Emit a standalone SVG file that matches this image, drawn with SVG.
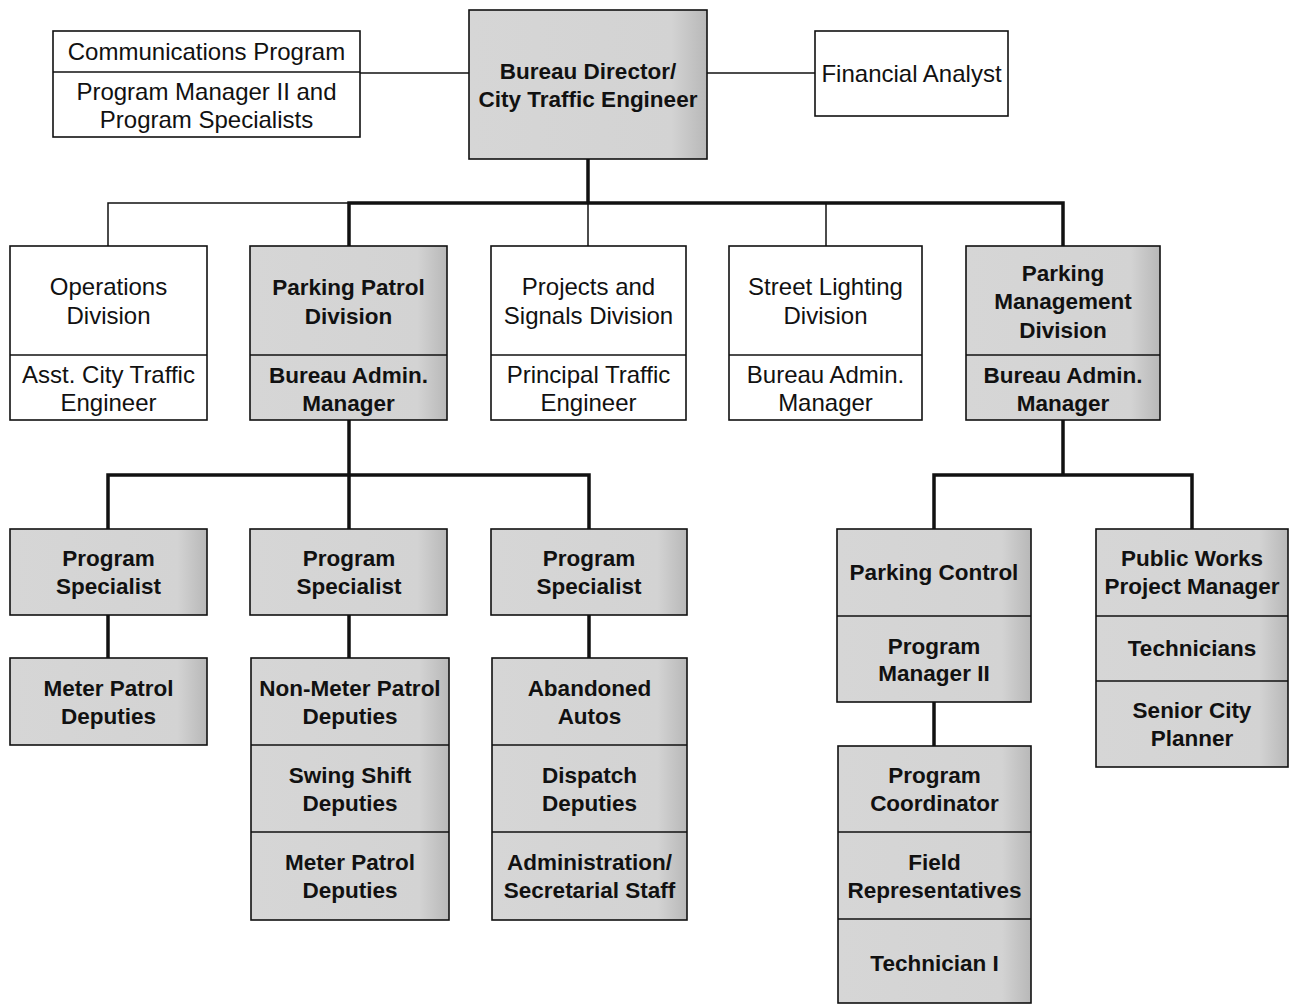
<svg xmlns="http://www.w3.org/2000/svg" width="1289" height="1005" viewBox="0 0 1289 1005">
<defs>
<linearGradient id="g" x1="0" y1="0" x2="1" y2="0">
<stop offset="0" stop-color="#d6d6d6"/>
<stop offset="0.85" stop-color="#d3d3d3"/>
<stop offset="1" stop-color="#b8b8b8"/>
</linearGradient>
<style>
.w{fill:#fff;stroke:#111;stroke-width:1.6}
.s{fill:url(#g);stroke:#111;stroke-width:1.6}
.d{stroke:#111;stroke-width:1.4;fill:none}
.t{font-family:"Liberation Sans",Arial,Helvetica,sans-serif;font-size:24px;fill:#111;text-anchor:middle}
.b{font-family:"Liberation Sans",Arial,Helvetica,sans-serif;font-size:22.5px;font-weight:bold;fill:#111;text-anchor:middle}
.thin{stroke:#111;stroke-width:1.5;fill:none}
.thick{stroke:#111;stroke-width:3.5;fill:none}
</style>
</defs>
<rect width="1289" height="1005" fill="#fff"/>

<g id="connectors">
<line class="thin" x1="360" y1="73" x2="469" y2="73"/>
<line class="thin" x1="707" y1="73" x2="815" y2="73"/>
<line class="thick" x1="588" y1="159" x2="588" y2="203"/>
<polyline class="thin" points="108,246 108,203 349,203"/>
<polyline class="thick" points="349,246 349,203 1063,203 1063,246"/>
<line class="thin" x1="588" y1="203" x2="588" y2="246"/>
<line class="thin" x1="826" y1="203" x2="826" y2="246"/>
<line class="thick" x1="349" y1="420" x2="349" y2="529"/>
<polyline class="thick" points="108,529 108,475 589,475 589,529"/>
<line class="thick" x1="108" y1="615" x2="108" y2="658"/>
<line class="thick" x1="349" y1="615" x2="349" y2="658"/>
<line class="thick" x1="589" y1="615" x2="589" y2="658"/>
<line class="thick" x1="1063" y1="420" x2="1063" y2="475"/>
<polyline class="thick" points="934,529 934,475 1192,475 1192,529"/>
<line class="thick" x1="934" y1="702" x2="934" y2="746"/>
</g>

<g id="communications">
<rect class="w" x="53" y="31" width="307" height="106"/>
<line class="d" x1="53" y1="72" x2="360" y2="72"/>
<text class="t" x="206.5" y="60">Communications Program</text>
<text class="t" x="206.5" y="100">Program Manager II and</text>
<text class="t" x="206.5" y="128">Program Specialists</text>
</g>

<g id="bureau-director">
<rect class="s" x="469" y="10" width="238" height="149"/>
<text class="b" x="588" y="79">Bureau Director/</text>
<text class="b" x="588" y="107">City Traffic Engineer</text>
</g>

<g id="financial-analyst">
<rect class="w" x="815" y="31" width="193" height="85"/>
<text class="t" x="911.5" y="82">Financial Analyst</text>
</g>

<g id="operations">
<rect class="w" x="10" y="246" width="197" height="174"/>
<line class="d" x1="10" y1="355" x2="207" y2="355"/>
<text class="t" x="108.5" y="295">Operations</text>
<text class="t" x="108.5" y="324">Division</text>
<text class="t" x="108.5" y="383">Asst. City Traffic</text>
<text class="t" x="108.5" y="411">Engineer</text>
</g>

<g id="parking-patrol">
<rect class="s" x="250" y="246" width="197" height="174"/>
<line class="d" x1="250" y1="355" x2="447" y2="355"/>
<text class="b" x="348.5" y="295">Parking Patrol</text>
<text class="b" x="348.5" y="324">Division</text>
<text class="b" x="348.5" y="383">Bureau Admin.</text>
<text class="b" x="348.5" y="411">Manager</text>
</g>

<g id="projects-signals">
<rect class="w" x="491" y="246" width="195" height="174"/>
<line class="d" x1="491" y1="355" x2="686" y2="355"/>
<text class="t" x="588.5" y="295">Projects and</text>
<text class="t" x="588.5" y="324">Signals Division</text>
<text class="t" x="588.5" y="383">Principal Traffic</text>
<text class="t" x="588.5" y="411">Engineer</text>
</g>

<g id="street-lighting">
<rect class="w" x="729" y="246" width="193" height="174"/>
<line class="d" x1="729" y1="355" x2="922" y2="355"/>
<text class="t" x="825.5" y="295">Street Lighting</text>
<text class="t" x="825.5" y="324">Division</text>
<text class="t" x="825.5" y="383">Bureau Admin.</text>
<text class="t" x="825.5" y="411">Manager</text>
</g>

<g id="parking-management">
<rect class="s" x="966" y="246" width="194" height="174"/>
<line class="d" x1="966" y1="355" x2="1160" y2="355"/>
<text class="b" x="1063" y="281">Parking</text>
<text class="b" x="1063" y="309">Management</text>
<text class="b" x="1063" y="338">Division</text>
<text class="b" x="1063" y="383">Bureau Admin.</text>
<text class="b" x="1063" y="411">Manager</text>
</g>

<g id="program-specialist-1">
<rect class="s" x="10" y="529" width="197" height="86"/>
<text class="b" x="108.5" y="566">Program</text>
<text class="b" x="108.5" y="594">Specialist</text>
</g>

<g id="program-specialist-2">
<rect class="s" x="250" y="529" width="197" height="86"/>
<text class="b" x="349" y="566">Program</text>
<text class="b" x="349" y="594">Specialist</text>
</g>

<g id="program-specialist-3">
<rect class="s" x="491" y="529" width="196" height="86"/>
<text class="b" x="589" y="566">Program</text>
<text class="b" x="589" y="594">Specialist</text>
</g>

<g id="meter-patrol-deputies">
<rect class="s" x="10" y="658" width="197" height="87"/>
<text class="b" x="108.5" y="696">Meter Patrol</text>
<text class="b" x="108.5" y="724">Deputies</text>
</g>

<g id="non-meter-patrol">
<rect class="s" x="251" y="658" width="198" height="262"/>
<line class="d" x1="251" y1="745" x2="449" y2="745"/>
<line class="d" x1="251" y1="832" x2="449" y2="832"/>
<text class="b" x="350" y="696">Non-Meter Patrol</text>
<text class="b" x="350" y="724">Deputies</text>
<text class="b" x="350" y="783">Swing Shift</text>
<text class="b" x="350" y="811">Deputies</text>
<text class="b" x="350" y="870">Meter Patrol</text>
<text class="b" x="350" y="898">Deputies</text>
</g>

<g id="abandoned-autos">
<rect class="s" x="492" y="658" width="195" height="262"/>
<line class="d" x1="492" y1="745" x2="687" y2="745"/>
<line class="d" x1="492" y1="832" x2="687" y2="832"/>
<text class="b" x="589.5" y="696">Abandoned</text>
<text class="b" x="589.5" y="724">Autos</text>
<text class="b" x="589.5" y="783">Dispatch</text>
<text class="b" x="589.5" y="811">Deputies</text>
<text class="b" x="589.5" y="870">Administration/</text>
<text class="b" x="589.5" y="898">Secretarial Staff</text>
</g>

<g id="parking-control">
<rect class="s" x="837" y="529" width="194" height="173"/>
<line class="d" x1="837" y1="616" x2="1031" y2="616"/>
<text class="b" x="934" y="580">Parking Control</text>
<text class="b" x="934" y="654">Program</text>
<text class="b" x="934" y="681">Manager II</text>
</g>

<g id="program-coordinator">
<rect class="s" x="838" y="746" width="193" height="257"/>
<line class="d" x1="838" y1="832" x2="1031" y2="832"/>
<line class="d" x1="838" y1="919" x2="1031" y2="919"/>
<text class="b" x="934.5" y="783">Program</text>
<text class="b" x="934.5" y="811">Coordinator</text>
<text class="b" x="934.5" y="870">Field</text>
<text class="b" x="934.5" y="898">Representatives</text>
<text class="b" x="934.5" y="971">Technician I</text>
</g>

<g id="public-works">
<rect class="s" x="1096" y="529" width="192" height="238"/>
<line class="d" x1="1096" y1="616" x2="1288" y2="616"/>
<line class="d" x1="1096" y1="681" x2="1288" y2="681"/>
<text class="b" x="1192" y="566">Public Works</text>
<text class="b" x="1192" y="594">Project Manager</text>
<text class="b" x="1192" y="656">Technicians</text>
<text class="b" x="1192" y="718">Senior City</text>
<text class="b" x="1192" y="746">Planner</text>
</g>
</svg>
